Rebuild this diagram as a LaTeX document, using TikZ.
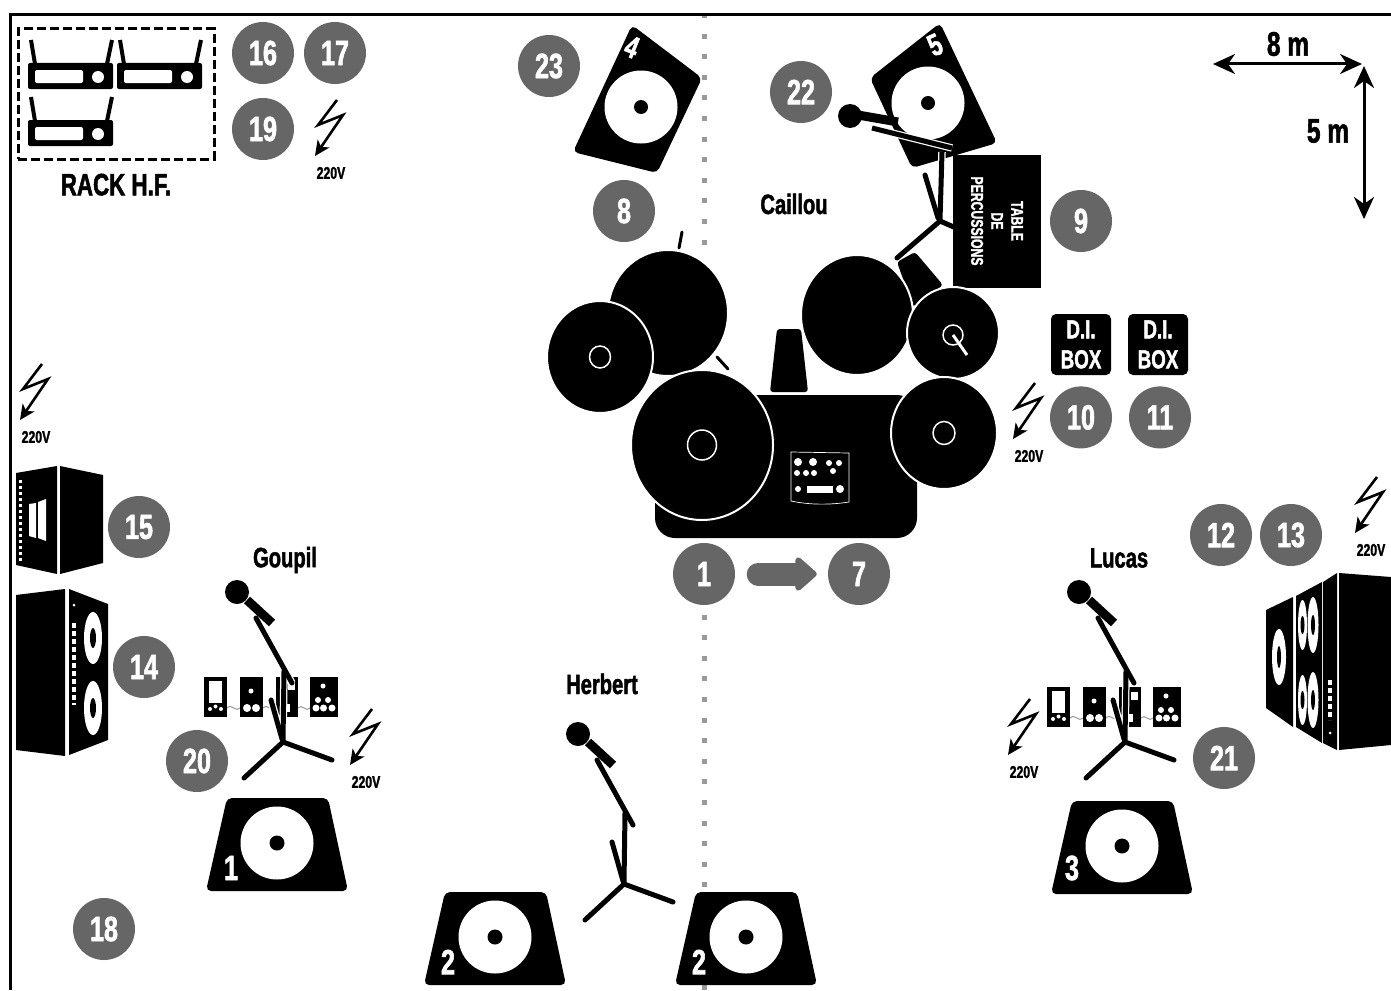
\documentclass[tikz,border=0pt]{standalone}
\usepackage{fontspec}
\setmainfont[FakeStretch=0.72, BoldFont={Liberation Sans Bold}, BoldFeatures={FakeStretch=0.72, FakeBold=1.6}]{Liberation Sans}
\usetikzlibrary{arrows.meta, positioning}

\definecolor{dotgray}{HTML}{666666}
\definecolor{linegray}{HTML}{999999}

\newcommand{\boldsize}[1]{\bfseries\fontsize{#1}{#1}\selectfont}

\tikzset{
    numdot/.style={circle, fill=dotgray, text=white, minimum size=62pt, inner sep=0pt, font=\boldsize{35}},
    wedgenum/.style={text=white, inner sep=0pt, font=\boldsize{35}},
    bandname/.style={text=black, inner sep=0pt, font=\boldsize{28}},
    scaletext/.style={text=black, inner sep=0pt, font=\boldsize{34}},
    voltage/.style={text=black, inner sep=0pt, font=\boldsize{17}},
    dibox/.style={fill=black, rounded corners=5pt, text=white, minimum width=60pt, minimum height=61pt,
        inner sep=0pt, align=center, font=\boldsize{26}},
    drum/.style={fill=black, draw=white, line width=2pt},
    drumring/.style={draw=white, line width=1.5pt},
    solid shape/.style={fill=black, rounded corners=5pt},
    dimarrow/.style={line width=3pt, {Stealth[length=22pt,width=20pt,inset=7pt]}-{Stealth[length=22pt,width=20pt,inset=7pt]}},
    stage dots/.style={draw=linegray, line width=5pt, dash pattern=on 5pt off 15.6pt},
    % floor monitor, origin on the centre of its cone
    pics/wedge/.style={code={
        \fill[solid shape] (-50,-45) -- (51,-45) -- (71,48) -- (-71,48) -- cycle;
        \fill[white] (0,0) circle (36.5);
        \fill[black] (0,0) circle (7.5);
    }},
    % mic stand, origin on the mic head
    pics/micstand/.style={code={
        \draw[white, line width=7.5pt] (19,26) -- (55,91) (47,79) -- (46,149) (34,108) -- (45,147);
        \draw[black, line width=5pt, line cap=round] (19,26) -- (55,91);
        \draw[black, line width=5pt, line cap=round] (47,79) -- (46,149);
        \draw[black, line width=5pt, line cap=round] (34,108) -- (45,147);
        \draw[black, line width=5pt, line cap=round] (7,186) -- (46,150) -- (95,168);
        \draw[black, line width=9pt] (10,8) -- (35,31);
        \fill[black] (0,0) circle (12);
    }},
    % one wireless receiver, origin on the top left of the body
    pics/receiver/.style={code={
        \fill[black, rounded corners=2pt] (0,0) rectangle (85,26);
        \fill[white, rounded corners=2pt] (7,7) rectangle (55,20);
        \fill[white] (70,14) circle (6);
        \draw[black, line width=4pt] (7,1) -- (3,-23);
        \draw[black, line width=4pt] (79,1) -- (84,-23);
    }},
    % power socket, origin on the text
    pics/mains/.style={code={
        \draw[black, line width=2.6pt, -{Stealth[length=15pt,width=14pt,inset=4pt]}]
            (6,-73) -- (-13,-48) -- (12,-58) -- (-16,-17);
        \node[voltage] (-volt) at (0,0) {220V};
    }},
    % row of four pedals, origin on the top left of the first
    pics/pedals/.style={code={
        \draw[linegray, line width=1pt] (23,31) .. controls (28,26) and (32,36) .. (36,31);
        \draw[linegray, line width=1pt] (59,31) .. controls (64,26) and (68,36) .. (72,31);
        \draw[linegray, line width=1pt] (94,31) .. controls (98,26) and (102,36) .. (106,31);
        \fill[black] (0,0) rectangle (23,40);
        \fill[white] (5,4) rectangle (18,26);
        \fill[white] (6,32) circle (2) (11.5,29.5) circle (2) (17,32) circle (2);
        \fill[black] (36,0) rectangle (59,40);
        \fill[white] (47,14) circle (2.5) (43,31) circle (4) (52,31) circle (4);
        \fill[black] (72,0) rectangle (94,40);
        \fill[white] (84,5) rectangle (91,13);
        \fill[white] (82,27) rectangle (86,35);
        \fill[black] (106,0) rectangle (134,40);
        \fill[white] (119,9) circle (2.5) (114,23) circle (3) (124,23) circle (3)
            (112,31) circle (3.5) (119.5,31) circle (3.5) (128,31) circle (3.5);
    }},
}

\begin{document}
\begin{tikzpicture}[x=1pt, y=-1pt]
    \useasboundingbox (0,0) rectangle (1391,990);

    % Centre line
    \draw[stage dots] (704,13) -- (704,247);
    \draw[stage dots] (704,614.5) -- (704,990);

    % Stage limits
    \draw[black, line width=3pt] (10,990) -- (10,14.5) -- (1391,14.5);

    % Rack
    \node[draw=black, line width=3pt, dash pattern=on 9pt off 4pt, minimum width=196pt, minimum height=130pt,
        inner sep=0pt] (rack) at (116,94) {};
    \pic at (28,63) {receiver};
    \pic at (117,63) {receiver};
    \pic at (28,120) {receiver};
    \node[bandname, font=\boldsize{31}, below=13pt of rack] (racklabel) {RACK H.F.};
    \pic (boltrack) at (331,173) {mains};

    % Back monitors
    \fill[solid shape] (632,25) -- (702,78) -- (657,173) -- (573,152) -- cycle;
    \fill[white] (641,107) circle (36.5);
    \fill[black] (641,107) circle (7);
    \node[wedgenum, rotate=-22, font=\boldsize{31}] (mon4) at (632,47) {4};
    \fill[solid shape] (940,23) -- (997,143) -- (912,168) -- (870,78) -- cycle;
    \fill[white] (928,103) circle (36.5);
    \fill[black] (928,103) circle (7);
    \node[wedgenum, rotate=25, font=\boldsize{31}] (mon5) at (935,45) {5};

    % Caillou mic stand
    \draw[white, line width=7.5pt] (872,128) -- (952,148);
    \draw[black, line width=5pt] (872,128) -- (952,148);
    \draw[white, line width=7.5pt] (942,152) -- (940,220);
    \draw[black, line width=5pt] (942,152) -- (940,220);
    \draw[black, line width=5pt, line cap=round] (925,175) -- (938,218);
    \draw[black, line width=5pt, line cap=round] (897,258) -- (940,221) -- (956,228);
    \draw[black, line width=9pt] (858,115) -- (898,122);
    \fill[black] (850,116) circle (12);

    % Percussion table
    \node[fill=black, minimum width=88pt, minimum height=133pt, inner sep=0pt] (table) at (997,221) {};
    \node[text=white, rotate=-90, align=center, font=\boldsize{17}, inner sep=0pt] (tabletext) at (997,221)
        {TABLE\\[3pt]DE\\[3pt]PERCUSSIONS};

    % Drums, rear to front
    \fill[black, rounded corners=3pt] (897,262) -- (915,252) -- (943,285) -- (913,307) -- cycle;
    \draw[black, line width=3pt, line cap=round] (682,232) -- (679,248);
    \draw[black, line width=3pt, line cap=round] (717,357) -- (728,369);
    \fill[black, rounded corners=3pt] (777,329) -- (801,329) -- (808,392) -- (770,392) -- cycle;
    \path[drum] (668,313) circle [x radius=60, y radius=63];
    \path[drum] (600,357) circle [x radius=53, y radius=56];
    \draw[drumring] (600,357) circle [x radius=10.5, y radius=11];
    \path[fill=black, rounded corners=20pt] (655,395) rectangle (917,538);
    \path[drum] (702,445) circle [x radius=71, y radius=75];
    \draw[drumring] (702,445) circle [x radius=14.5, y radius=15];
    \path[drum] (857,315) circle [x radius=56, y radius=60];
    \path[drum] (953,333) circle [x radius=46, y radius=46];
    \draw[drumring] (953,335) circle (10);
    \draw[white, line width=3pt] (953,335) -- (967,355);
    \path[drum] (944,433) circle [x radius=53, y radius=56];
    \draw[drumring] (944,433) circle [x radius=11, y radius=11.5];

    % Drum module
    \draw[white, line width=.7pt] (791,452) -- (849,453) -- (849,502) .. controls (830,505) and (810,505) .. (791,501) -- cycle;
    \fill[white] (798,462) circle (4) (813,462) circle (4) (829,463) circle (3) (839,463) circle (3);
    \fill[white] (797,473) circle (3) (806,473) circle (3) (814,473) circle (3) (833,471) circle (3);
    \fill[white] (798,489) circle (3) (840,489) circle (4);
    \fill[white] (807,486) rectangle (833,493);

    % Arrow and numbers under the kit
    \node[numdot] (dot1) at (704,574) {1};
    \node[numdot] (dot7) at (859,574) {7};
    \draw[dotgray, line width=23pt, line cap=round, shorten <=23pt, shorten >=11pt,
        -{Triangle[length=23pt,width=39pt,round]}] (dot1) -- (dot7);

    % D.I.
    \node[dibox] (di1) at (1081,344.5) {D.I.\\[4pt]BOX};
    \node[dibox] (di2) at (1158,344.5) {D.I.\\[4pt]BOX};
    \node[numdot, below=11pt of di1] (dot10) {10};
    \node[numdot, below=11pt of di2, xshift=2pt] (dot11) {11};
    \pic (boltdrum) at (1029,456) {mains};

    % Left amps
    \fill[black] (16,473) -- (57,466) -- (57,574) -- (16,565) -- cycle;
    \fill[black] (60,466) -- (103,475) -- (103,563) -- (60,574) -- cycle;
    \fill[white] (29,504) -- (36,503) -- (36,538) -- (29,536) -- cycle;
    \fill[white] (38,502) -- (46,499) -- (46,541) -- (38,538) -- cycle;
    \draw[white, line width=2.5pt, dash pattern=on 3pt off 3pt] (20.5,480) -- (20.5,562);
    \fill[black] (16,595) -- (65,589) -- (65,756) -- (16,750) -- cycle;
    \fill[black] (69,589) -- (108,604) -- (108,740) -- (69,755) -- cycle;
    \fill[white] (93,638) circle [x radius=9, y radius=26];
    \fill[black] (93,638) circle [x radius=3, y radius=10];
    \fill[white] (93,708) circle [x radius=9, y radius=27];
    \fill[black] (93,708) circle [x radius=3, y radius=10];
    \draw[white, line width=4pt, dash pattern=on 5pt off 3pt] (74,623) -- (74,705);
    \fill[white] (74,605) circle (1.5);
    \pic (boltleft) at (36,437) {mains};

    % Right amps
    \fill[black] (1266,610) -- (1293,597) -- (1293,727) -- (1266,708) -- cycle;
    \fill[white] (1279,657) circle [x radius=7, y radius=28];
    \fill[black] (1279,657) circle [x radius=2, y radius=11];
    \fill[black] (1296,596) -- (1322,582) -- (1322,743) -- (1296,727) -- cycle;
    \fill[white] (1302.5,625) circle [x radius=4.5, y radius=25];
    \fill[white] (1313,625) circle [x radius=5.5, y radius=28];
    \fill[white] (1302.5,700) circle [x radius=4.5, y radius=25];
    \fill[white] (1313,700) circle [x radius=5.5, y radius=28];
    \fill[black] (1302.5,625) circle [x radius=2, y radius=9];
    \fill[black] (1313,625) circle [x radius=2, y radius=10];
    \fill[black] (1302.5,700) circle [x radius=2, y radius=9];
    \fill[black] (1313,700) circle [x radius=2, y radius=10];
    \fill[black] (1323,582) -- (1337,573) -- (1337,750) -- (1323,743) -- cycle;
    \draw[white, line width=4pt, dash pattern=on 5pt off 3pt] (1330,680) -- (1330,720);
    \fill[white] (1330,733) circle (1.5);
    \fill[black] (1339,573) -- (1391,577) -- (1391,745) -- (1339,750) -- cycle;
    \pic (boltright) at (1371,550) {mains};

    % Goupil
    \pic at (204,677) {pedals};
    \pic at (237,592) {micstand};
    \node[bandname] (goupil) at (285,560) {Goupil};
    \pic at (277,843) {wedge};
    \node[wedgenum] (mon1) at (231,868) {1};
    \pic (boltgoupil) at (366,782) {mains};

    % Herbert
    \pic at (578,734) {micstand};
    \node[bandname] (herbert) at (602,684) {Herbert};
    \pic at (495,937) {wedge};
    \node[wedgenum] (mon2a) at (448,962) {2};
    \pic at (746,937) {wedge};
    \node[wedgenum] (mon2b) at (699,962) {2};

    % Lucas
    \pic at (1047,687) {pedals};
    \pic at (1079,592) {micstand};
    \node[bandname] (lucas) at (1119,558) {Lucas};
    \pic at (1122,846) {wedge};
    \node[wedgenum] (mon3) at (1072,868) {3};
    \pic (boltlucas) at (1024,772) {mains};

    \node[bandname] (caillou) at (794,204) {Caillou};

    % Numbers
    \node[numdot] (dot16) at (263,53) {16};
    \node[numdot] (dot17) at (335,53) {17};
    \node[numdot] (dot19) at (263,129) {19};
    \node[numdot] (dot23) at (549,66) {23};
    \node[numdot] (dot22) at (801,92) {22};
    \node[numdot] (dot8) at (624,211) {8};
    \node[numdot] (dot9) at (1081,221) {9};
    \node[numdot] (dot12) at (1221,535) {12};
    \node[numdot] (dot13) at (1291,535) {13};
    \node[numdot] (dot15) at (139,527) {15};
    \node[numdot] (dot14) at (144,667) {14};
    \node[numdot] (dot20) at (197,761) {20};
    \node[numdot] (dot21) at (1224,758) {21};
    \node[numdot] (dot18) at (104,929) {18};

    % Scale
    \coordinate (scalew) at (1213,64);
    \coordinate (scalee) at (1362,64);
    \coordinate (scalen) at (1364,66);
    \coordinate (scales) at (1364,219);
    \draw[dimarrow] (scalew) -- (scalee);
    \draw[dimarrow] (scalen) -- (scales);
    \node[scaletext] (eightm) at (1288,44) {8 m};
    \node[scaletext] (fivem) at (1328,131) {5 m};
\end{tikzpicture}
\end{document}
